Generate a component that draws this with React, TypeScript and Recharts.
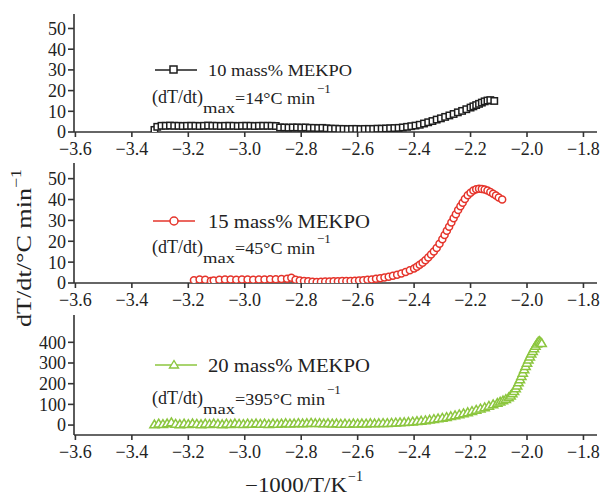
import React from 'react';
import { ScatterChart, Scatter, XAxis, YAxis } from 'recharts';

const SERIF = '"Liberation Serif", "Times New Roman", serif';
const AXIS = '#333333';
const BLACK = '#1e1e1e';
const RED = '#e5342b';
const GREEN = '#8cc63f';

const xTicks = [-3.6, -3.4, -3.2, -3.0, -2.8, -2.6, -2.4, -2.2, -2.0, -1.8];
const xDomain = [-3.605, -1.752];
const yTicksLow = [0, 10, 20, 30, 40, 50];
const yTicksHigh = [0, 100, 200, 300, 400];
const seriesNames = ['10 mass% MEKPO', '15 mass% MEKPO', '20 mass% MEKPO'];
const maxRates = [14, 45, 395];

// 10 mass% MEKPO  [ -1000/T , dT/dt ]
const s10: number[][] = [
  [-3.32, 1.0], [-3.31, 2.5], [-3.295, 3.0], [-3.28, 3.0], [-3.265, 3.1], [-3.25, 3.0], [-3.235, 3.0], [-3.22, 2.9],
  [-3.205, 3.0], [-3.19, 3.0], [-3.175, 3.0], [-3.16, 2.9], [-3.145, 3.0], [-3.13, 3.1], [-3.115, 3.0], [-3.1, 3.0],
  [-3.085, 2.9], [-3.07, 3.0], [-3.055, 3.0], [-3.04, 3.0], [-3.025, 2.9], [-3.01, 3.0], [-2.995, 3.0], [-2.98, 3.0],
  [-2.965, 2.9], [-2.95, 3.0], [-2.935, 3.0], [-2.92, 3.0], [-2.905, 3.0], [-2.89, 2.9],
  [-2.875, 2.2], [-2.86, 2.2], [-2.845, 2.1], [-2.83, 2.2], [-2.815, 2.2], [-2.8, 2.1], [-2.785, 2.2], [-2.77, 2.0],
  [-2.755, 2.0], [-2.74, 1.9], [-2.725, 2.0], [-2.71, 1.8],
  [-2.695, 1.6], [-2.68, 1.6], [-2.665, 1.5], [-2.65, 1.5], [-2.635, 1.4], [-2.62, 1.5], [-2.605, 1.5], [-2.59, 1.4],
  [-2.575, 1.5], [-2.56, 1.5], [-2.545, 1.5], [-2.53, 1.6], [-2.515, 1.6], [-2.5, 1.7], [-2.485, 1.8], [-2.47, 1.9],
  [-2.455, 2.0], [-2.44, 2.2],
  [-2.425, 2.5], [-2.41, 2.8], [-2.395, 3.1], [-2.38, 3.5], [-2.365, 4.1], [-2.35, 4.7], [-2.335, 5.3], [-2.32, 6.0],
  [-2.305, 6.6], [-2.29, 7.3], [-2.275, 8.0], [-2.26, 8.7], [-2.245, 9.5], [-2.23, 10.2], [-2.215, 11.0], [-2.2, 11.8],
  [-2.19, 12.4], [-2.18, 13.0], [-2.17, 13.6], [-2.16, 14.2], [-2.15, 14.8], [-2.14, 15.2], [-2.13, 15.4], [-2.116, 15.0],
];

// 15 mass% MEKPO
const s15: number[][] = [
  [-3.18, 1.3], [-3.16, 1.7], [-3.14, 1.6], [-3.12, 1.0], [-3.11, 1.2], [-3.09, 1.6], [-3.07, 1.7], [-3.05, 1.7],
  [-3.03, 1.6], [-3.01, 1.7], [-2.99, 1.7], [-2.97, 1.6], [-2.95, 1.7], [-2.93, 1.7], [-2.91, 1.8], [-2.89, 1.8],
  [-2.87, 1.9], [-2.85, 2.0], [-2.835, 2.5], [-2.82, 1.5], [-2.805, 1.2], [-2.79, 1.0], [-2.775, 0.8], [-2.76, 0.6],
  [-2.745, 0.5], [-2.73, 0.6], [-2.715, 0.7], [-2.7, 0.7], [-2.685, 0.8], [-2.67, 0.8], [-2.655, 0.9], [-2.64, 0.9],
  [-2.625, 1.0], [-2.61, 1.1], [-2.595, 1.2], [-2.58, 1.3], [-2.565, 1.5], [-2.55, 1.7], [-2.535, 2.0], [-2.52, 2.3],
  [-2.505, 2.6], [-2.49, 3.0], [-2.475, 3.5], [-2.46, 4.0], [-2.445, 4.6], [-2.43, 5.3], [-2.415, 6.1], [-2.4, 7.0],
  [-2.39, 7.8], [-2.38, 8.7], [-2.37, 9.7], [-2.36, 10.9], [-2.35, 12.2], [-2.34, 13.6], [-2.33, 15.1], [-2.32, 16.8],
  [-2.31, 18.8], [-2.3, 21.0], [-2.292, 23.0], [-2.284, 25.0], [-2.276, 27.0], [-2.268, 29.0], [-2.26, 31.0],
  [-2.252, 33.0], [-2.244, 35.0], [-2.236, 36.8], [-2.228, 38.5], [-2.22, 40.2], [-2.21, 42.0], [-2.2, 43.3],
  [-2.19, 44.3], [-2.18, 44.9], [-2.17, 45.2], [-2.16, 45.1], [-2.15, 44.8], [-2.14, 44.3], [-2.13, 43.6],
  [-2.12, 42.8], [-2.11, 41.9], [-2.1, 41.0], [-2.088, 40.0],
];

// 20 mass% MEKPO
const s20: number[][] = [
  [-3.32, 2], [-3.305, 6], [-3.29, 4], [-3.275, 7], [-3.26, 12], [-3.245, 5], [-3.23, 3], [-3.215, 6], [-3.2, 4],
  [-3.185, 7], [-3.17, 5], [-3.155, 3], [-3.14, 6], [-3.125, 4], [-3.11, 7], [-3.095, 5], [-3.08, 3], [-3.065, 6],
  [-3.05, 4], [-3.035, 7], [-3.02, 5], [-3.005, 4], [-2.99, 6], [-2.975, 5], [-2.96, 7], [-2.945, 5], [-2.93, 6],
  [-2.915, 4], [-2.9, 7], [-2.885, 5], [-2.87, 6], [-2.855, 8], [-2.84, 6], [-2.825, 7], [-2.81, 9], [-2.795, 7],
  [-2.78, 8], [-2.765, 10], [-2.75, 8], [-2.735, 9], [-2.72, 7], [-2.705, 8], [-2.69, 6], [-2.675, 7], [-2.66, 5],
  [-2.645, 6], [-2.63, 5], [-2.615, 7], [-2.6, 6], [-2.585, 7], [-2.57, 6], [-2.555, 8], [-2.54, 7], [-2.525, 8],
  [-2.51, 9], [-2.495, 9], [-2.48, 10], [-2.465, 11], [-2.45, 12], [-2.435, 13], [-2.42, 14], [-2.405, 16],
  [-2.39, 18], [-2.375, 20], [-2.36, 22], [-2.345, 25], [-2.33, 28], [-2.315, 31], [-2.3, 34], [-2.285, 38],
  [-2.27, 42], [-2.255, 46], [-2.24, 51], [-2.225, 56], [-2.21, 61], [-2.195, 67], [-2.18, 73], [-2.165, 79],
  [-2.15, 85], [-2.135, 92], [-2.12, 99], [-2.105, 106], [-2.095, 112], [-2.085, 118], [-2.075, 125], [-2.065, 133],
  [-2.058, 142], [-2.052, 152], [-2.046, 163], [-2.04, 176], [-2.035, 190], [-2.03, 205], [-2.025, 220],
  [-2.02, 236], [-2.015, 252], [-2.01, 268], [-2.005, 284], [-2.0, 300], [-1.995, 315], [-1.99, 330],
  [-1.985, 344], [-1.98, 357], [-1.975, 370], [-1.97, 382], [-1.965, 393], [-1.96, 402], [-1.956, 405],
  [-1.952, 400], [-1.948, 395],
];

const fmtX = (v: number) => (v < 0 ? '\u2212' : '') + Math.abs(v).toFixed(1);

const SquareShape = (p: any) => (
  <rect x={p.cx - 3.2} y={p.cy - 3.2} width={6.4} height={6.4} fill="#fff" stroke={BLACK} strokeWidth={1.5} />
);
const CircleShape = (p: any) => (
  <circle cx={p.cx} cy={p.cy} r={3.5} fill="#fff" stroke={RED} strokeWidth={1.5} />
);
const TriangleShape = (p: any) => (
  <polygon
    points={`${p.cx},${p.cy - 4.6} ${p.cx + 4.6},${p.cy + 3.2} ${p.cx - 4.6},${p.cy + 3.2}`}
    fill="#fff"
    stroke={GREEN}
    strokeWidth={1.5}
  />
);

const tickStyle = { fontFamily: SERIF, fontSize: 18, fill: '#222' };
const axisLine = { stroke: AXIS, strokeWidth: 1.6 };

type PanelProps = {
  data: number[][];
  shape: any;
  top: number;
  height: number;
  mTop: number;
  xH: number;
  yDomain: number[];
  yTicks: number[];
};

function Panel({ data, shape, top, height, mTop, xH, yDomain, yTicks }: PanelProps) {
  const rows = data.map(([x, y]) => ({ x, y }));
  return (
    <div style={{ position: 'absolute', left: 0, top, width: 604, height }}>
      <ScatterChart width={604} height={height} margin={{ top: mTop, right: 7, bottom: 0, left: 0 }}>
        <XAxis
          xAxisId="b"
          type="number"
          dataKey="x"
          domain={xDomain}
          ticks={xTicks}
          interval={0}
          allowDataOverflow
          tickFormatter={fmtX}
          height={xH}
          tickSize={5}
          tickMargin={5}
          tick={tickStyle}
          axisLine={axisLine}
          tickLine={axisLine}
        />
        <XAxis
          xAxisId="t"
          orientation="top"
          type="number"
          dataKey="x"
          domain={xDomain}
          allowDataOverflow
          height={0}
          tick={false}
          tickLine={false}
          axisLine={axisLine}
        />
        <YAxis
          yAxisId="l"
          type="number"
          dataKey="y"
          domain={yDomain}
          ticks={yTicks}
          interval={0}
          allowDataOverflow
          width={74}
          tickSize={6}
          tickMargin={2}
          tick={tickStyle}
          axisLine={axisLine}
          tickLine={axisLine}
        />
        <YAxis
          yAxisId="r"
          orientation="right"
          type="number"
          dataKey="y"
          domain={yDomain}
          allowDataOverflow
          width={0}
          tick={false}
          tickLine={false}
          axisLine={axisLine}
        />
        <Scatter xAxisId="b" yAxisId="l" data={rows} shape={shape} isAnimationActive={false} />
      </ScatterChart>
    </div>
  );
}

function Rate({ base, value, supX, eqLen }: { base: number; value: number; supX: number; eqLen: number }) {
  const t = { fontFamily: SERIF, fill: '#222' };
  return (
    <g>
      <text {...t} x={152} y={base - 1} fontSize={18} textLength={51} lengthAdjust="spacingAndGlyphs">(dT/dt)</text>
      <text {...t} x={203} y={base + 9} fontSize={14} textLength={32} lengthAdjust="spacingAndGlyphs">max</text>
      <text {...t} x={235} y={base} fontSize={17} textLength={eqLen} lengthAdjust="spacingAndGlyphs">{`=${value}\u00B0C min`}</text>
      <text {...t} x={supX} y={base - 11} fontSize={13}>{'\u22121'}</text>
    </g>
  );
}

export default function App() {
  const t = { fontFamily: SERIF, fill: '#222' };
  return (
    <div style={{ position: 'absolute', left: 0, top: 0, width: 604, height: 495, background: '#fff', overflow: 'hidden' }}>
      <Panel data={s10} shape={SquareShape} top={0} height={160} mTop={14} xH={28} yDomain={[0, 57]} yTicks={yTicksLow} />
      <Panel data={s15} shape={CircleShape} top={150} height={163} mTop={13} xH={30} yDomain={[0, 57.5]} yTicks={yTicksLow} />
      <Panel data={s20} shape={TriangleShape} top={300} height={165} mTop={15} xH={30} yDomain={[-48, 532]} yTicks={yTicksHigh} />
      <svg width={604} height={495} style={{ position: 'absolute', left: 0, top: 0, pointerEvents: 'none' }}>
        {/* legend 1 */}
        <line x1={155} x2={197} y1={70} y2={70} stroke={BLACK} strokeWidth={1.6} />
        <rect x={170} y={66} width={7} height={7} fill="#fff" stroke={BLACK} strokeWidth={1.5} />
        <text {...t} x={208} y={76} fontSize={17} textLength={144} lengthAdjust="spacingAndGlyphs">{seriesNames[0]}</text>
        <Rate base={104} value={maxRates[0]} supX={317} eqLen={80} />
        {/* legend 2 */}
        <line x1={153} x2={195} y1={221} y2={221} stroke={RED} strokeWidth={1.6} />
        <circle cx={174} cy={221} r={4} fill="#fff" stroke={RED} strokeWidth={1.5} />
        <text {...t} x={208} y={228} fontSize={19} textLength={162} lengthAdjust="spacingAndGlyphs">{seriesNames[1]}</text>
        <Rate base={254} value={maxRates[1]} supX={317} eqLen={80} />
        {/* legend 3 */}
        <line x1={155} x2={197} y1={365} y2={365} stroke={GREEN} strokeWidth={1.6} />
        <polygon points="174,360.5 178.5,368 169.5,368" fill="#fff" stroke={GREEN} strokeWidth={1.4} />
        <text {...t} x={208} y={372} fontSize={19} textLength={162} lengthAdjust="spacingAndGlyphs">{seriesNames[2]}</text>
        <Rate base={405} value={maxRates[2]} supX={327} eqLen={90} />
        {/* axis titles */}
        <text
          {...t}
          transform="translate(31,248) rotate(-90)"
          textAnchor="middle"
          fontSize={22}
          textLength={158}
          lengthAdjust="spacingAndGlyphs"
        >
          {'dT/dt/\u00B0C  min'}
          <tspan fontSize={15} dy={-10}>{'\u22121'}</tspan>
        </text>
        <text {...t} x={245} y={492} fontSize={20} textLength={102} lengthAdjust="spacingAndGlyphs">{'\u22121000/T/K'}</text>
        <text {...t} x={348} y={481} fontSize={14}>{'\u22121'}</text>
      </svg>
    </div>
  );
}
